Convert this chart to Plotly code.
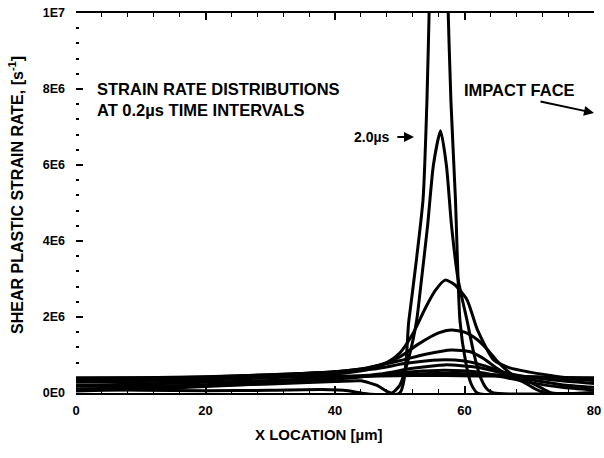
import plotly.graph_objects as go

# Strain rate distributions (units of 1E6 s^-1) vs X location (um), 0.2 us intervals
x_20 = [0, 10, 20, 30, 38, 42, 44, 50, 51.4, 52.5, 53.6, 54.2, 54.6, 55.3, 56, 56.7, 57.4, 57.9, 58.6, 59.3, 60.2, 61, 62, 80]
y_20 = [0.1, 0.07, 0.06, 0.07, 0.09, 0.06, 0, 0, 1.9, 3.4, 5.1, 7.7, 10.5, 16, 19, 16, 10.5, 7.7, 5.1, 1.9, 0.8, 0.25, 0, 0]

x_18 = [0, 10, 20, 30, 40, 44, 46.5, 48, 48.8, 50, 51.5, 52.6, 53.3, 54.3, 55.2, 56.3, 57.2, 58, 59, 60.4, 61.5, 62.5, 63.5, 64.5, 80]
y_18 = [0.18, 0.18, 0.2, 0.24, 0.3, 0.32, 0.2, 0.04, 0, 0.2, 1.0, 1.9, 2.9, 4.4, 6.0, 6.9, 6.0, 4.4, 3.0, 1.9, 1.0, 0.4, 0.1, 0, 0]

x_16 = [0, 10, 20, 30, 40, 45, 48, 50, 52, 54, 55.5, 57, 58.5, 60.4, 62, 64.5, 67, 70, 73, 76, 80]
y_16 = [0.28, 0.3, 0.34, 0.4, 0.5, 0.62, 0.8, 1.05, 1.55, 2.25, 2.7, 2.97, 2.85, 2.45, 1.66, 0.87, 0.66, 0.55, 0.47, 0.4, 0.34]

x_14 = [0, 10, 20, 30, 40, 45, 48, 50, 53, 56, 58, 60, 62, 63.5, 65, 66.5, 68, 70, 72, 73.5, 80]
y_14 = [0.33, 0.35, 0.4, 0.46, 0.56, 0.66, 0.8, 0.95, 1.3, 1.58, 1.66, 1.6, 1.4, 1.15, 0.85, 0.6, 0.42, 0.3, 0.12, 0, 0]

x_12 = [0, 10, 20, 30, 40, 45, 50, 54, 58, 61, 63, 65, 67, 69, 71, 72.5, 80]
y_12 = [0.36, 0.38, 0.42, 0.48, 0.56, 0.66, 0.85, 1.02, 1.13, 1.08, 0.9, 0.65, 0.45, 0.3, 0.1, 0, 0]

x_10 = [0, 10, 20, 30, 40, 46, 51, 56, 60, 63, 66, 70, 75, 80]
y_10 = [0.38, 0.4, 0.43, 0.48, 0.55, 0.63, 0.78, 0.87, 0.84, 0.72, 0.55, 0.42, 0.32, 0.25]

x_early = [0, 10, 20, 30, 40, 47, 52, 57, 62, 66, 70, 75, 80]
y_08 = [0.1, 0.15, 0.22, 0.3, 0.4, 0.5, 0.65, 0.74, 0.68, 0.52, 0.36, 0.22, 0.15]
y_06 = [0.05, 0.1, 0.17, 0.25, 0.36, 0.48, 0.56, 0.6, 0.55, 0.42, 0.28, 0.15, 0.08]
y_04 = [0.2, 0.24, 0.28, 0.33, 0.4, 0.46, 0.5, 0.52, 0.5, 0.47, 0.43, 0.38, 0.33]
y_02 = [0.4, 0.4, 0.41, 0.42, 0.44, 0.45, 0.46, 0.46, 0.45, 0.44, 0.43, 0.41, 0.4]

curves = [
    ("0.2", x_early, y_02), ("0.4", x_early, y_04), ("0.6", x_early, y_06),
    ("0.8", x_early, y_08), ("1.0", x_10, y_10), ("1.2", x_12, y_12),
    ("1.4", x_14, y_14), ("1.6", x_16, y_16), ("1.8", x_18, y_18), ("2.0", x_20, y_20),
]

y_tickvals = [0, 2, 4, 6, 8, 10]
y_ticktext = ["0E0", "2E6", "4E6", "6E6", "8E6", "1E7"]
x_tickvals = [0, 20, 40, 60, 80]

FONT = "Liberation Sans"
fig = go.Figure()
for name, xs, ys in curves:
    fig.add_trace(go.Scatter(x=xs, y=ys, mode="lines", name=name + " us",
                             line=dict(color="black", width=3, shape="spline", smoothing=0.6),
                             showlegend=False, hoverinfo="skip"))

fig.update_layout(
    width=604, height=458,
    margin=dict(l=76, r=10, t=13, b=65, autoexpand=False),
    paper_bgcolor="white", plot_bgcolor="white",
    font=dict(family=FONT, color="black", size=12, weight="bold"),
    xaxis=dict(range=[0, 80], tickvals=x_tickvals, showgrid=False, zeroline=False, automargin=False,
               showline=True, linecolor="black", linewidth=2, mirror="ticks",
               ticks="inside", ticklen=7, tickwidth=1.5, tickcolor="black",
               minor=dict(dtick=4, tick0=0, ticks="inside", ticklen=4, tickwidth=1.2, tickcolor="black"),
               tickfont=dict(family=FONT, size=13, weight="bold"), ticklabelstandoff=4),
    yaxis=dict(range=[0, 10], tickvals=y_tickvals, ticktext=y_ticktext, showgrid=False, zeroline=False,
               automargin=False,
               showline=False, ticks="inside", ticklen=7, tickwidth=1.5, tickcolor="black",
               minor=dict(dtick=0.4, tick0=0, ticks="inside", ticklen=3, tickwidth=1.5, tickcolor="black"),
               tickfont=dict(family=FONT, size=12.5, weight="bold"), ticklabelstandoff=10),
    yaxis2=dict(range=[0, 10], overlaying="y", side="right", showgrid=False, zeroline=False,
                automargin=False,
                showline=True, linecolor="black", linewidth=2, showticklabels=False,
                tickvals=y_tickvals, ticks="inside", ticklen=7, tickwidth=1.5, tickcolor="black",
                minor=dict(dtick=0.4, tick0=0, ticks="inside", ticklen=4, tickwidth=1.2, tickcolor="black")),
)

ann_font = dict(family=FONT, size=16.5, color="black", weight="bold")
fig.add_annotation(x=-0.116, y=0.521, xref="paper", yref="paper", textangle=-90,
                   xanchor="center", yanchor="middle",
                   text="SHEAR PLASTIC STRAIN RATE, [s<sup>-1</sup>]", showarrow=False,
                   font=dict(family=FONT, size=16, weight="bold"))
fig.add_annotation(x=0.469, y=-0.1105, xref="paper", yref="paper",
                   xanchor="center", yanchor="middle",
                   text="X LOCATION [µm]", showarrow=False,
                   font=dict(family=FONT, size=15, weight="bold"))
fig.add_annotation(x=3, y=8.0, xref="x", yref="y", xanchor="left", yanchor="middle",
                   text="STRAIN RATE DISTRIBUTIONS", showarrow=False, font=ann_font)
fig.add_annotation(x=3, y=7.45, xref="x", yref="y", xanchor="left", yanchor="middle",
                   text="AT 0.2µs TIME INTERVALS", showarrow=False, font=ann_font)
fig.add_annotation(x=42.6, y=6.74, xref="x", yref="y", xanchor="left", yanchor="middle",
                   text="2.0µs", showarrow=False, font=dict(family=FONT, size=14, weight="bold"))
fig.add_annotation(x=52.2, y=6.74, ax=49.4, ay=6.74, xref="x", yref="y", axref="x", ayref="y",
                   text="", showarrow=True, arrowhead=2, arrowsize=1, arrowwidth=2, arrowcolor="black")
fig.add_annotation(x=59.6, y=7.97, xref="x", yref="y", xanchor="left", yanchor="middle",
                   text="IMPACT FACE", showarrow=False, font=ann_font)
fig.add_annotation(x=80, y=7.37, ax=71.5, ay=7.68, xref="x", yref="y", axref="x", ayref="y",
                   text="", showarrow=True, arrowhead=2, arrowsize=1, arrowwidth=2, arrowcolor="black")

fig.write_html("out.html", config={"displayModeBar": False},
               post_script="document.body.style.margin='0';document.body.style.overflow='hidden';"
                           "document.documentElement.style.overflow='hidden';")
